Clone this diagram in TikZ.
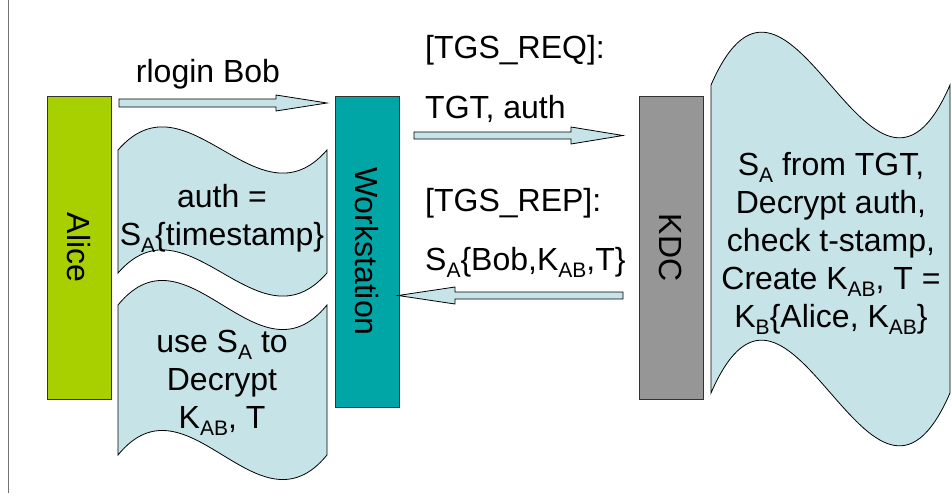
\documentclass[tikz,border=0pt]{standalone}
\usepackage{fontspec}
\setmainfont{Liberation Sans}
\definecolor{alicegreen}{RGB}{168,208,0}
\definecolor{wsteal}{RGB}{0,166,166}
\definecolor{kdcgray}{RGB}{150,150,150}
\definecolor{lblue}{RGB}{198,228,232}
\definecolor{edge}{RGB}{50,50,50}
\newcommand\bigfont{\fontsize{32}{38}\selectfont}
\newcommand\sbs[1]{\raisebox{-7pt}{\fontsize{21}{21}\selectfont #1}}
\tikzset{
  ent/.style={draw=edge, line width=0.9pt, rotate=-90, minimum height=64, inner sep=0pt, font=\bigfont},
  wavebox/.style={fill=lblue, draw=black, line width=0.8pt},
  barrow/.style={fill=lblue, draw=black, line width=0.8pt},
  lbl/.style={font=\bigfont, inner sep=0pt, align=center},
}
\newcommand\wavepath[5]{% x1 x2 ytop ybot A
  \path[wavebox] (#1,#3) .. controls ({#1+(#2-#1)/3},{#3-#5}) and ({#1+2*(#2-#1)/3},{#3+#5}) .. (#2,#3)
    -- (#2,#4) .. controls ({#1+2*(#2-#1)/3},{#4+#5}) and ({#1+(#2-#1)/3},{#4-#5}) .. (#1,#4) -- cycle;}
\begin{document}
\begin{tikzpicture}[x=1pt,y=-1pt]
\useasboundingbox (0,0) rectangle (952,495);
\coordinate (ltop) at (8,0);
\coordinate (lbot) at (8,493);
\draw[gray!90!black, line width=1pt] (ltop) -- (lbot);

% entities
\node[ent, fill=alicegreen, minimum width=303] (alice) at (79,247.5) {Alice};
\node[ent, fill=wsteal, minimum width=311] (ws) at (367,251.5) {Workstation};
\node[ent, fill=kdcgray, minimum width=303] (kdc) at (671,247.5) {KDC};

% wave boxes
\wavepath{118}{327}{150}{273}{80}
\wavepath{118}{327}{305}{455}{85}
\wavepath{711}{950}{85}{393}{183}

% block arrows
\coordinate (a1s) at (119,103);
\coordinate (a1e) at (327,103);
\draw[barrow] (119,99) -- (276,99) -- (276,95) -- (a1e) -- (276,111) -- (276,107) -- (119,107) -- cycle;
\coordinate (a2s) at (414,135.5);
\coordinate (a2e) at (623,135.5);
\draw[barrow] (414,132) -- (571,132) -- (571,127) -- (a2e) -- (571,144) -- (571,139) -- (414,139) -- cycle;
\coordinate (a3s) at (623,295.5);
\coordinate (a3e) at (398,295.5);
\draw[barrow] (623,292) -- (455,292) -- (455,287) -- (a3e) -- (455,304) -- (455,299) -- (623,299) -- cycle;

% labels
\node[lbl, anchor=base] (rl) at (208,82) {rlogin Bob};
\node[lbl, anchor=base west] (req) at (425,59) {[TGS\_REQ]:};
\node[lbl, anchor=base west] (reqm) at (425,118) {TGT, auth};
\node[lbl, anchor=base west] (rep) at (425,211) {[TGS\_REP]:};
\node[lbl, anchor=base west] (repm) at (425,270) {S\sbs{A}\{Bob,K\sbs{AB},T\}};

\node[lbl] (w1t) at (222,218) {auth =\\S\sbs{A}\{timestamp\}};
\node[lbl] (w2t) at (222,383) {use S\sbs{A} to\\Decrypt\\K\sbs{AB}, T};
\node[lbl] (w3t) at (831,243) {S\sbs{A} from TGT,\\Decrypt auth,\\check t-stamp,\\Create K\sbs{AB}, T =\\K\sbs{B}\{Alice, K\sbs{AB}\}};
\end{tikzpicture}
\end{document}
